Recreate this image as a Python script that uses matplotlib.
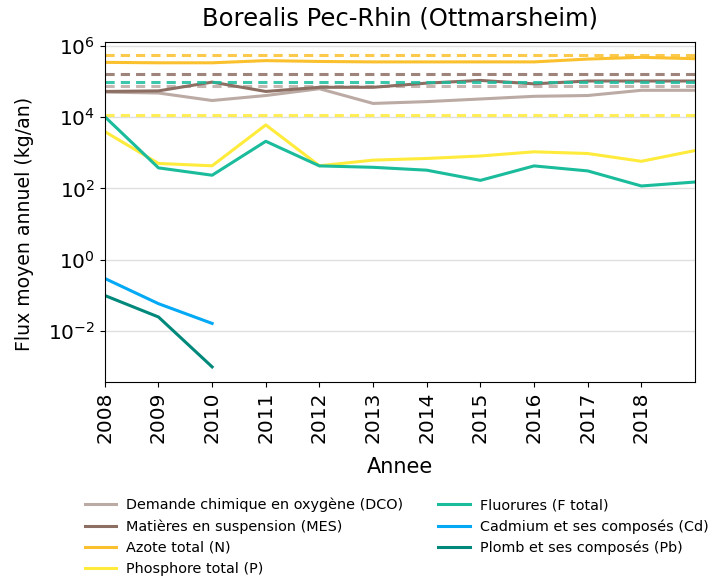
import matplotlib
matplotlib.use('Agg')
import matplotlib.pyplot as plt

# annual mean flux per pollutant (kg/an)
years = [2008, 2009, 2010, 2011, 2012, 2013, 2014, 2015, 2016, 2017, 2018, 2019]
dco = [5.0e4, 4.7e4, 2.9e4, 4.0e4, 6.2e4, 2.4e4, 2.7e4, 3.2e4, 3.8e4, 4.0e4, 5.6e4, 5.6e4]
mes = [5.2e4, 5.4e4, 9.5e4, 5.2e4, 6.8e4, 6.8e4, 8.9e4, 1.06e5, 8.5e4, 1.02e5, 1.02e5, 1.02e5]
azote = [3.4e5, 3.3e5, 3.3e5, 3.8e5, 3.6e5, 3.5e5, 3.5e5, 3.5e5, 3.5e5, 4.2e5, 4.7e5, 4.3e5]
phosphore = [3900, 500, 430, 6000, 430, 620, 690, 810, 1060, 950, 575, 1150]
fluorures = [10200, 376, 234, 2090, 427, 390, 324, 168, 427, 309, 117, 151]
years_metal = [2008, 2009, 2010]
cadmium = [0.3, 0.059, 0.0165]
plomb = [0.1, 0.025, 0.001]

# seuils (dashed lines)
seuil_dco = 7.6e4
seuil_mes = 1.6e5
seuil_azote = 5.5e5
seuil_phosphore = 1.15e4
seuil_fluorures = 9.5e4

labels = ['Demande chimique en oxygène (DCO)', 'Matières en suspension (MES)',
          'Azote total (N)', 'Phosphore total (P)', 'Fluorures (F total)',
          'Cadmium et ses composés (Cd)', 'Plomb et ses composés (Pb)']
colors = ['#bcaaa4', '#8d6e63', '#fbc02d', '#ffeb3b', '#1abc9c', '#03a9f4', '#00897b']

fig = plt.figure(figsize=(7.18, 5.76), dpi=100)
ax = fig.add_axes([0.146, 0.337, 0.822, 0.59])

series = [dco, mes, azote, phosphore, fluorures]
seuils = [seuil_dco, seuil_mes, seuil_azote, seuil_phosphore, seuil_fluorures]
for i in range(len(series)):
	ax.plot(years, series[i], color=colors[i], lw=2.2, label=labels[i])
	ax.axhline(seuils[i], color=colors[i], lw=2.2, ls=(0, (3, 2)), alpha=0.85)
ax.plot(years_metal, cadmium, color=colors[5], lw=2.2, label=labels[5])
ax.plot(years_metal, plomb, color=colors[6], lw=2.2, label=labels[6])

ax.set_yscale('log')
ax.set_ylim(10**-3.42, 10**6.1)
ax.set_yticks([1e-2, 1, 1e2, 1e4, 1e6])
ax.yaxis.set_minor_locator(matplotlib.ticker.NullLocator())
ax.yaxis.grid(True, color='#e0e0e0', lw=1)
ax.set_axisbelow(True)
ax.set_xlim(2008, 2019)
ax.set_xticks(years[:-1])
ax.set_xticklabels([str(y) for y in years[:-1]], rotation=90)
ax.tick_params(labelsize=14.5)

ax.set_title('Borealis Pec-Rhin (Ottmarsheim)', fontsize=17.5, pad=12)
ax.set_ylabel('Flux moyen annuel (kg/an)', fontsize=13.6)
ax.yaxis.set_label_coords(-0.12, 0.465)
ax.set_xlabel('Annee', fontsize=15, labelpad=10)

ax.legend(loc='upper center', bbox_to_anchor=(0.4945, -0.302), ncol=2, frameon=False,
          fontsize=10.4, handlelength=2.2, handletextpad=0.7, columnspacing=2.4,
          labelspacing=0.5)

fig.savefig('out.png', dpi=100)
